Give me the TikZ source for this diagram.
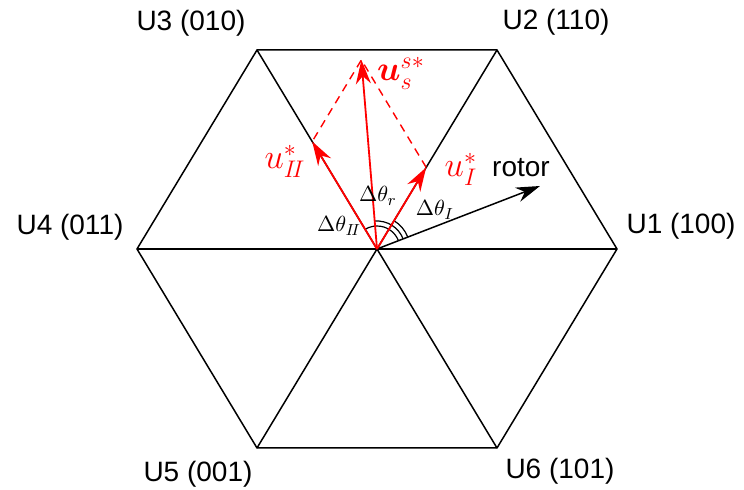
\documentclass[tikz,border=0pt]{standalone}
\usepackage{fontspec}
\setmainfont{Liberation Sans}
\usepackage{bm}
\usetikzlibrary{arrows.meta,calc}
\tikzset{
  hexline/.style={black,line width=0.75pt},
  vlabel/.style={font=\fontsize{14}{16}\selectfont},
  redvec/.style={red,line width=0.9pt},
  reddash/.style={red,line width=0.7pt,dash pattern=on 4pt off 3pt},
  redlabel/.style={red,font=\fontsize{16.5}{19}\selectfont},
  anglabel/.style={font=\fontsize{11}{13}\selectfont},
  angarc/.style={black,line width=0.6pt}
}
\begin{document}
\begin{tikzpicture}[x=0.5pt,y=0.5pt,>={Stealth[length=12pt,width=7.5pt]}]
  \useasboundingbox (-377,-241) rectangle (367,249);
  \coordinate (O) at (0,0);
  \foreach \n/\x/\y in {1/240/0,2/120/199,3/-120/199,4/-240/0,5/-120/-199,6/120/-199}
    \coordinate (U\n) at (\x,\y);
  % hexagon and spokes
  \draw[hexline] (U1) -- (U2) -- (U3) -- (U4) -- (U5) -- (U6) -- cycle;
  \foreach \n in {1,...,6} \draw[hexline] (O) -- (U\n);
  \node[vlabel] (l1) at (304,23) {U1 (100)};
  \node[vlabel] (l2) at (179,227) {U2 (110)};
  \node[vlabel] (l3) at (-186,226) {U3 (010)};
  \node[vlabel] (l4) at (-307,22) {U4 (011)};
  \node[vlabel] (l5) at (-179,-225) {U5 (001)};
  \node[vlabel] (l6) at (183,-222) {U6 (101)};
  % vectors
  \coordinate (uI) at ($(O)!0.41!(U2)$);
  \coordinate (uII) at ($(O)!0.54!(U3)$);
  \coordinate (us) at ($(uI)+(uII)$);
  \coordinate (rotor) at (163,63);
  \draw[angarc] (21.1:23) arc[start angle=21.1,end angle=121.1,radius=23];
  \draw[angarc] (21.1:28) arc[start angle=21.1,end angle=94.7,radius=28];
  \draw[angarc] (21.1:33) arc[start angle=21.1,end angle=58.9,radius=33];
  \draw[hexline,->] (O) -- (rotor);
  \draw[reddash] (uI) -- (us) -- (uII);
  \draw[redvec,->] (O) -- (uI);
  \draw[redvec,->] (O) -- (uII);
  \draw[redvec,->] (O) -- (us);
  \node[vlabel] (lrotor) at (144,81) {rotor};
  \node[redlabel] (luI) at (84,80) {$u^*_I$};
  \node[redlabel] (luII) at (-92,88) {$u^*_{I\!I}$};
  \node[redlabel] (lus) at (24,176) {$\bm{u}^{s*}_s$};
  \node[anglabel] (aII) at (-38,23) {$\Delta\theta_{I\!I}$};
  \node[anglabel] (ar) at (1,53) {$\Delta\theta_r$};
  \node[anglabel] (aI) at (58,39) {$\Delta\theta_I$};
\end{tikzpicture}
\end{document}
